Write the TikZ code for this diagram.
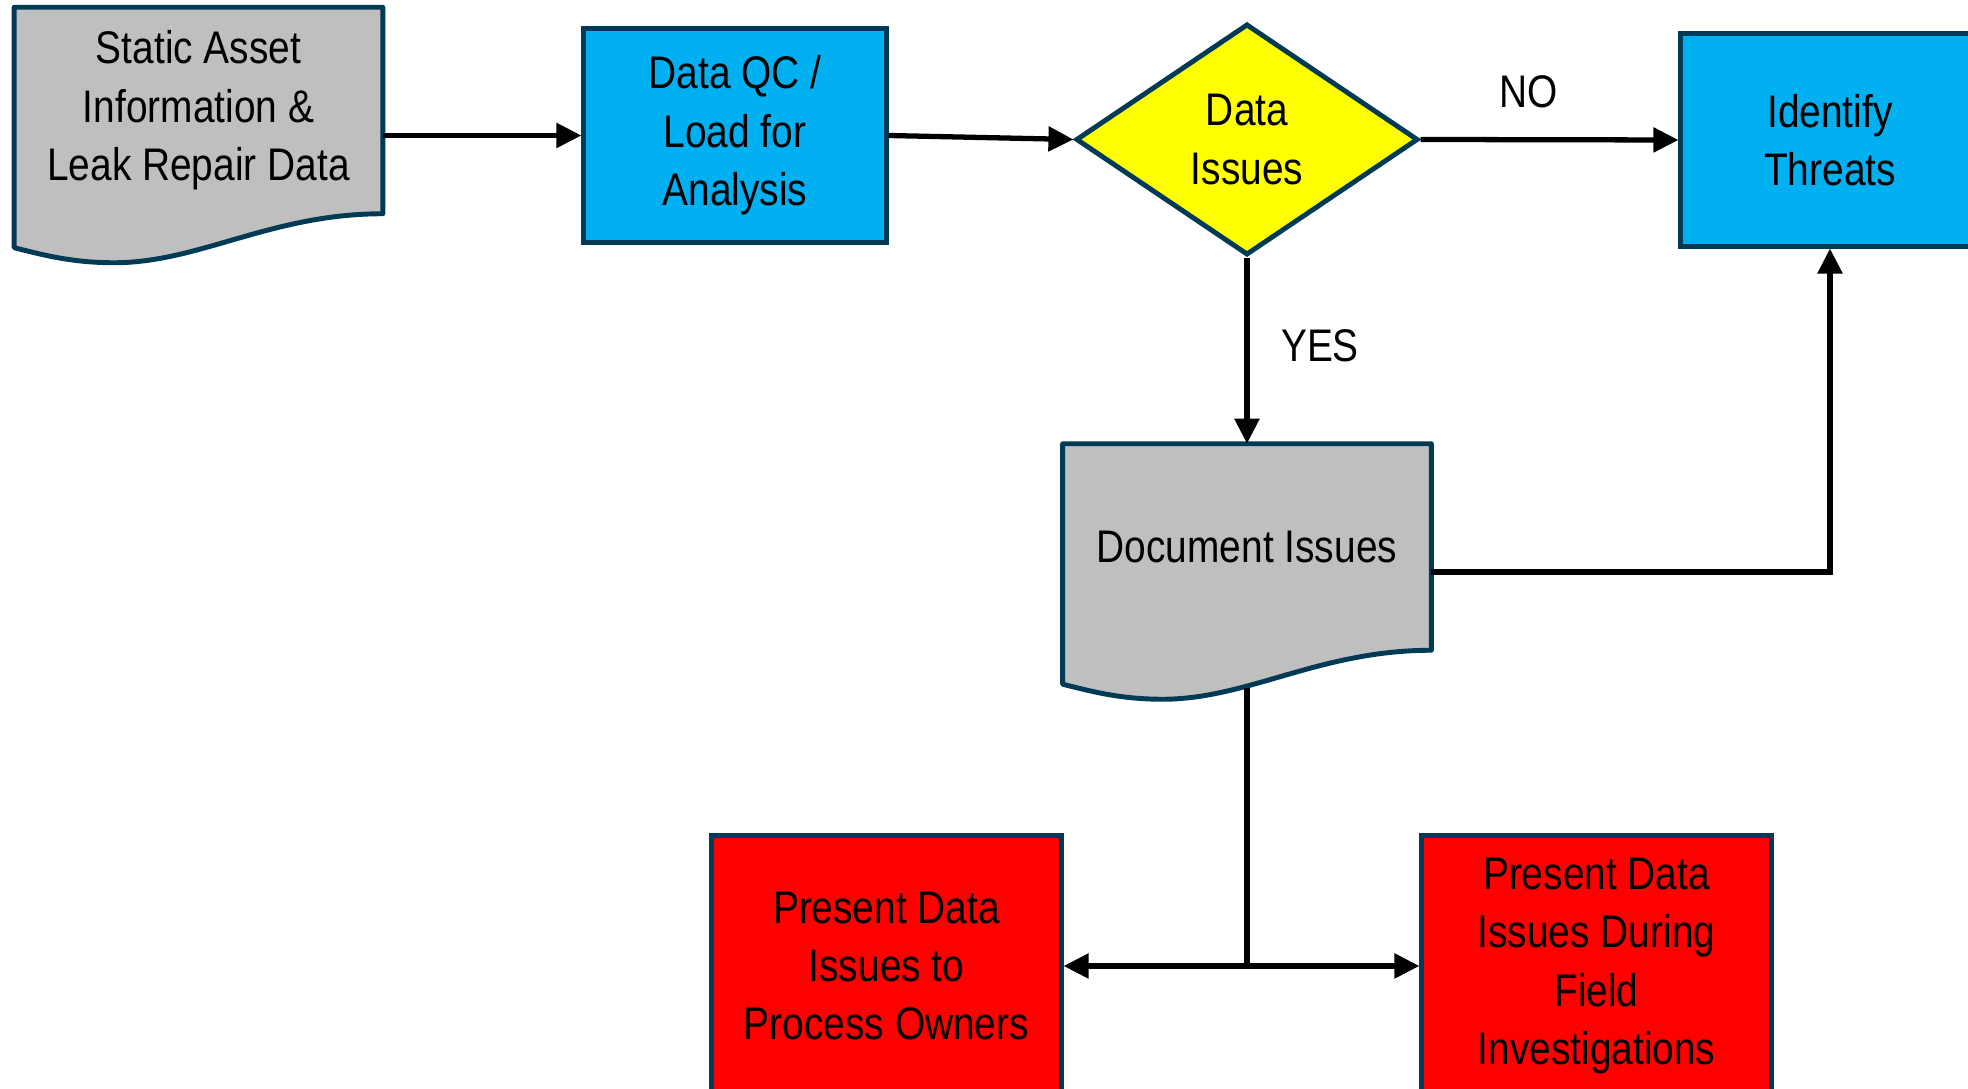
\documentclass[tikz,border=0pt]{standalone}
\usepackage{fontspec}
\setmainfont{Liberation Sans}[FakeStretch=0.85]
\usepackage{xcolor}
\usepackage{tikz}
\usetikzlibrary{shapes.geometric,arrows.meta,backgrounds,calc}
\definecolor{myborder}{RGB}{0,58,85}
\definecolor{mygray}{RGB}{191,191,191}
\definecolor{myblue}{RGB}{0,176,240}
\definecolor{myyellow}{RGB}{255,255,0}
\definecolor{myred}{RGB}{255,0,0}

\begin{document}
\begin{tikzpicture}[
    x=0.01cm, y=-0.01cm,
    font=\fontsize{13}{16.6}\selectfont,
    box/.style={rectangle, draw=myborder, line width=1.4pt, fill=myblue,
                align=center, inner sep=0pt},
    redbox/.style={box, fill=myred, minimum width=3.49cm, minimum height=2.6cm},
    doc/.style={rectangle, minimum width=3.67cm, minimum height=2.05cm,
                align=center, inner sep=0pt},
    docshape/.style={draw=myborder, line width=1.4pt, fill=mygray, line join=round},
    decision/.style={diamond, draw=myborder, line width=1.4pt, fill=myyellow,
                minimum width=3.42cm, minimum height=2.31cm, inner sep=0pt, align=center},
    arrow/.style={-{Triangle[length=0.25cm,width=0.24cm]}, line width=1.5pt},
    link/.style={line width=1.5pt}
]
    \useasboundingbox (0,0) rectangle (1968,1089);
    \clip (0,0) rectangle (1968,1089);

    \node[doc] (static) at (198.5,110.5) {Static Asset\\Information \&\\Leak Repair Data};
    \node[box, minimum width=3.02cm, minimum height=2.13cm] (dataqc) at (735,135.5) {Data QC /\\Load for\\Analysis};
    \node[decision] (issues) at (1247,139.5) {Data\\Issues};
    \node[box, minimum width=2.98cm, minimum height=2.12cm] (threats) at (1830,140) {Identify\\Threats};
    \node[doc] (docissues) at (1247,547) {Document Issues};
    \node[redbox] (owners) at (886.5,966) {Present Data\\Issues to\\Process Owners};
    \node[redbox] (field) at (1596.5,966) {Present Data\\Issues During\\Field\\Investigations};

    \node (no) at (1529,92) {NO};
    \node (yes) at (1320,346) {YES};

    % document shapes behind the text
    \begin{scope}[on background layer]
        \foreach \n in {static,docissues}
            \draw[docshape] (\n.north west) -- (\n.north east) -- (\n.south east)
                .. controls +(-112,0) and +(85,0) .. ($(\n.south west)+(100,49)$)
                .. controls +(-45,0) and +(25,6) .. ($(\n.south west)+(0,34)$) -- cycle;
    \end{scope}

    \draw[arrow] (static.east |- dataqc.west) -- (dataqc.west);
    \draw[arrow] (dataqc.east) -- (issues.west);
    \draw[arrow] (issues.east) -- (threats.west);
    \draw[arrow] (issues.south) -- (docissues.north);
    \draw[arrow] ([yshift=-0.25cm]docissues.east) -| (threats.south);

    \coordinate (docbot) at (1247,688);
    \coordinate (split) at (1247,966);
    \draw[link] (docbot) -- (split);
    \draw[arrow] (split) -- (owners.east);
    \draw[arrow] (split) -- (field.west);
\end{tikzpicture}
\end{document}
